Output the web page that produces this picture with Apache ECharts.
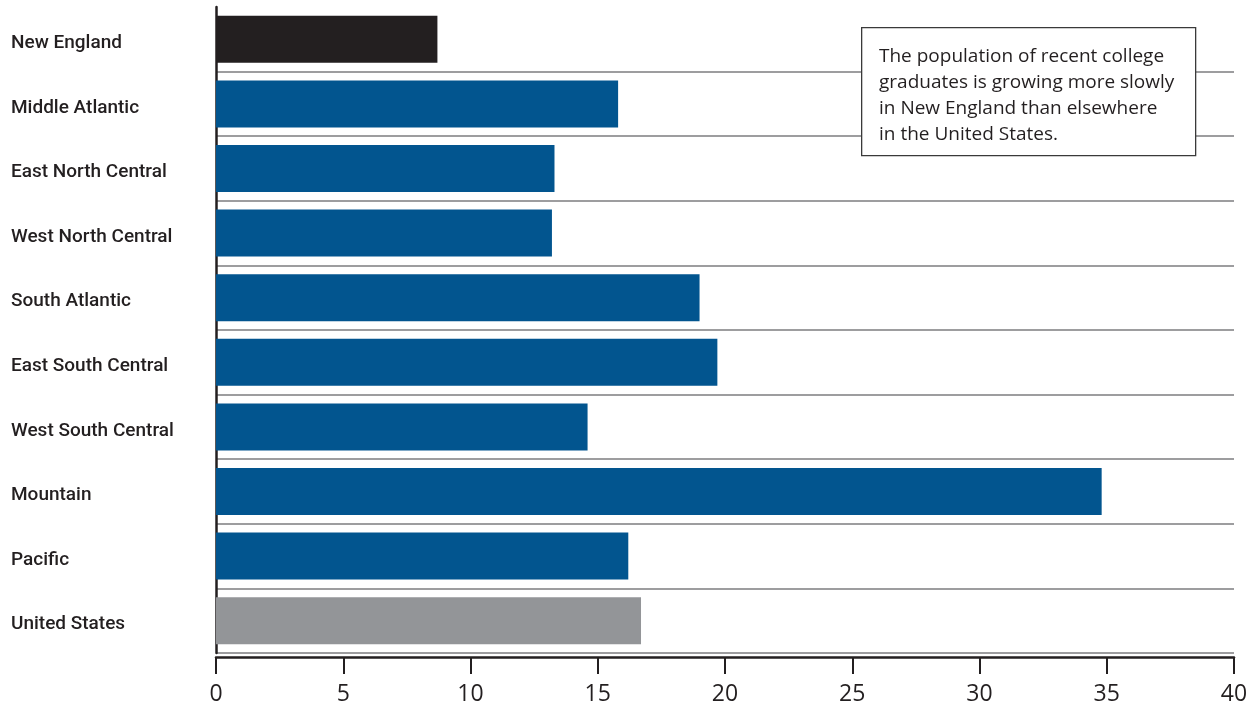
<!DOCTYPE html>
<html><head><meta charset="utf-8">
<script src="https://cdn.jsdelivr.net/npm/echarts@6/dist/echarts.min.js"></script>
<style>html,body{margin:0;padding:0;background:#fff}#c{width:1251px;height:706px}</style>
</head><body><div id="c"></div>
<script>
const categories = ['New England','Middle Atlantic','East North Central','West North Central','South Atlantic','East South Central','West South Central','Mountain','Pacific','United States'];
const values = [8.7, 15.8, 13.3, 13.2, 19.0, 19.7, 14.6, 34.8, 16.2, 16.7];
const barColors = ['#231f20','#02558f','#02558f','#02558f','#02558f','#02558f','#02558f','#02558f','#02558f','#939598'];
const xTicks = [0, 40, 5];
const note = ['The population of recent college','graduates is growing more slowly','in New England than elsewhere','in the United States.'];

const chart = echarts.init(document.getElementById('c'), null, {renderer:'canvas'});
chart.setOption({
  animation:false,
  backgroundColor:'#fff',
  grid:{left:216, right:17, top:7, bottom:49, containLabel:false},
  xAxis:{type:'value', min:xTicks[0], max:xTicks[1], interval:xTicks[2], offset:4,
    axisLine:{show:true, lineStyle:{color:'#231f20', width:2.5}},
    axisTick:{show:true, length:17, lineStyle:{color:'#231f20', width:2}},
    axisLabel:{color:'#231f20', fontSize:23, fontFamily:'Open Sans', margin:26},
    splitLine:{show:false}},
  yAxis:{type:'category', data:categories, inverse:true,
    axisLine:{show:true, lineStyle:{color:'#231f20', width:2.5}},
    axisTick:{show:false},
    axisLabel:{align:'left', verticalAlign:'top', lineHeight:8, margin:205, color:'#231f20', fontSize:19, fontFamily:'Roboto', fontWeight:500},
    splitLine:{show:true, interval:function(i){return i>0;}, lineStyle:{color:'#9d9d9f', width:2}}},
  series:[{type:'bar', barWidth:47, z:3,
    data: values.map((v,i)=>({value:v, itemStyle:{color:barColors[i]}}))}],
  graphic:[
    {type:'rect', left:861, top:27, z:100, shape:{x:0,y:0,width:334,height:128}, style:{fill:'#fff', stroke:'#3a3a3a', lineWidth:1.3}},
    {type:'text', left:879, top:44, z:101, style:{text:note.join('\n'), fill:'#231f20', font:'19px "Open Sans"', lineHeight:25.8}}
  ]
});
</script></body></html>
